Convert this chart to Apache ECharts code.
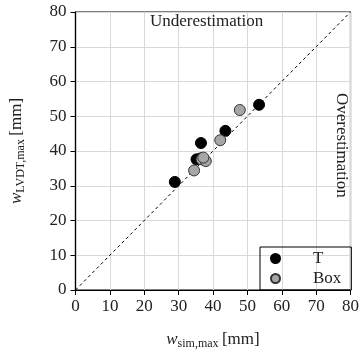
<!DOCTYPE html>
<html>
<head>
<meta charset="utf-8">
<script src="https://cdn.jsdelivr.net/npm/echarts@6/dist/echarts.min.js"></script>
<style>
  html, body { margin: 0; padding: 0; background: #fff; }
  #chart { width: 362px; height: 355px; }
</style>
</head>
<body>
<div id="chart"></div>
<script>
// measured vs simulated max deflection [mm]
const tSim = [53.4, 43.6, 36.5, 35.2, 36.5, 28.9];
const tLvdt = [53.3, 45.8, 42.3, 37.6, 37.9, 31.1];
const boxSim = [47.8, 42.1, 36.7, 37.9, 37.2, 34.5];
const boxLvdt = [51.8, 43.1, 37.6, 37.1, 38.1, 34.4];
const axisTicks = [0, 10, 20, 30, 40, 50, 60, 70, 80];

const font = 'Liberation Serif';

const toPairs = (xs, ys) => xs.map((x, i) => [x, ys[i]]);

const chart = echarts.init(document.getElementById('chart'));

const nameRich = {
  i: { fontFamily: font, fontStyle: 'italic', fontSize: 17, color: '#222' },
  s: { fontFamily: font, fontSize: 12, color: '#222', padding: [8, 0, 0, 0] },
  n: { fontFamily: font, fontSize: 17, color: '#222' }
};

const axisCommon = {
  type: 'value',
  min: axisTicks[0],
  max: axisTicks[axisTicks.length - 1],
  interval: 10,
  nameLocation: 'middle',
  axisLine: { show: true, onZero: false, lineStyle: { color: '#000', width: 1.2 } },
  axisTick: { show: true, inside: false, length: 5, lineStyle: { color: '#000' } },
  axisLabel: { color: '#222', fontFamily: font, fontSize: 17 },
  splitLine: { show: true, lineStyle: { color: '#d9d9d9', width: 1 } }
};

const option = {
  animation: false,
  grid: { left: 75, right: 9, top: 12, bottom: 65, show: true, borderColor: '#000', borderWidth: 1.2 },
  xAxis: Object.assign({}, axisCommon, {
    name: '{i|w}{s|sim,max} {n|[mm]}',
    nameGap: 40,
    nameTextStyle: { rich: nameRich },
    axisLabel: Object.assign({}, axisCommon.axisLabel, { margin: 8 })
  }),
  yAxis: Object.assign({}, axisCommon, {
    name: '{i|w}{s|LVDT,max} {n|[mm]}',
    nameGap: 49,
    nameTextStyle: { rich: nameRich },
    axisLabel: Object.assign({}, axisCommon.axisLabel, { margin: 9 })
  }),
  legend: {
    left: 260,
    top: 247,
    orient: 'vertical',
    itemWidth: 9,
    itemHeight: 9,
    itemGap: 3,
    padding: [3, 10, 3, 10],
    borderColor: '#000',
    borderWidth: 1,
    textStyle: { fontFamily: font, fontSize: 17, color: '#222', padding: [0, 0, 0, 28] },
    data: [
      { name: 'T', icon: 'circle' },
      { name: 'Box', icon: 'circle' }
    ]
  },
  graphic: [
    {
      type: 'text', left: 150, top: 13, z: 100,
      style: { text: 'Underestimation', font: '17px "Liberation Serif"', fill: '#222' }
    },
    {
      type: 'text', x: 350, y: 93, rotation: -Math.PI / 2, z: 100,
      style: { text: 'Overestimation', font: '17px "Liberation Serif"', fill: '#222' }
    }
  ],
  series: [
    {
      name: 'diag',
      type: 'line',
      data: [[0, 0], [80, 80]],
      symbol: 'none',
      lineStyle: { color: '#000', width: 1, type: [3, 3] },
      silent: true,
      z: 1
    },
    {
      name: 'T',
      type: 'scatter',
      data: toPairs(tSim, tLvdt),
      symbolSize: 11,
      itemStyle: { color: '#000', borderColor: '#000', borderWidth: 1, opacity: 1 },
      z: 3
    },
    {
      name: 'Box',
      type: 'scatter',
      data: toPairs(boxSim, boxLvdt),
      symbolSize: 11,
      itemStyle: { color: '#a6a6a6', borderColor: '#333', borderWidth: 1, opacity: 1 },
      z: 4
    }
  ]
};

chart.setOption(option);
</script>
</body>
</html>
